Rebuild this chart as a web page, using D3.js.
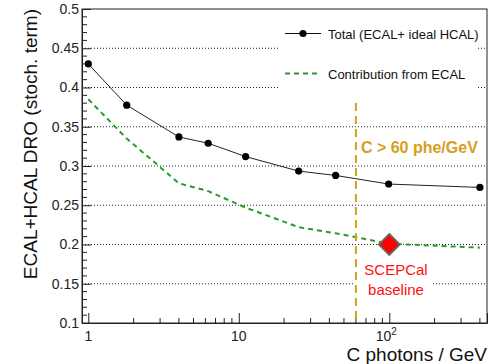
<!DOCTYPE html>
<html lang="en">
<head>
<meta charset="UTF-8">
<title>ECAL+HCAL DRO stochastic term</title>
<script src="https://unpkg.com/d3@7/dist/d3.min.js"></script>
<style>
  body { margin: 0; background: white; }
  text { font-family: "Liberation Sans", Arial, sans-serif; }
</style>
</head>
<body>
<script>
// data
var cPhotons   = [1, 1.8, 4.0, 6.26, 11.1, 25, 44, 99, 400];
var totalTerm  = [0.430, 0.3775, 0.337, 0.329, 0.312, 0.2935, 0.288, 0.277, 0.2727];
var ecalTerm   = [0.385, 0.335, 0.278, 0.268, 0.247, 0.222, 0.2143, 0.201, 0.196];
var baselineC  = [100], baselineTerm = [0.2];
var cutC = 60;
var yMajor = [0.1, 0.15, 0.2, 0.25, 0.3, 0.35, 0.4, 0.45, 0.5];
var xMajor = [1, 10, 100];

var width = 494, height = 364;
// note: "top" is taken by window.top, so plot edges get their own names
var pLeft = 82, pRight = 487, pTop = 9, pBottom = 323;

var svg = d3.select('body').append('svg')
            .attr('width', width).attr('height', height);

var x = d3.scaleLog().domain([0.908, 446]).range([pLeft, pRight]);
var y = d3.scaleLinear().domain([0.1, 0.5]).range([pBottom, pTop]);

// dotted horizontal grid
svg.append('g').selectAll('line')
   .data(yMajor.filter(v => v > 0.1 && v < 0.5))
   .enter().append('line')
   .attr('x1', pLeft).attr('x2', pRight)
   .attr('y1', d => y(d)).attr('y2', d => y(d))
   .attr('stroke', '#222').attr('stroke-width', 1)
   .attr('stroke-dasharray', '1,2');

// white boxes behind legend and label
svg.append('rect').attr('x', 280).attr('y', 15).attr('width', 198).attr('height', 78).attr('fill', 'white');
svg.append('rect').attr('x', 355).attr('y', 258).attr('width', 78).attr('height', 42).attr('fill', 'white');

// frame
svg.append('rect').attr('x', pLeft).attr('y', pTop)
   .attr('width', pRight - pLeft).attr('height', pBottom - pTop)
   .attr('fill', 'none').attr('stroke', '#222').attr('stroke-width', 1);

// y axis, ticks pointing inward
var yMinor = d3.range(10, 51).map(v => v / 100).filter(v => yMajor.indexOf(v) < 0);
svg.append('g').selectAll('line').data(yMinor).enter().append('line')
   .attr('x1', pLeft).attr('x2', pLeft + 5)
   .attr('y1', d => y(d)).attr('y2', d => y(d))
   .attr('stroke', '#222');
var yAxis = svg.append('g').attr('transform', 'translate(' + pLeft + ',0)')
   .call(d3.axisLeft(y).tickValues(yMajor).tickSize(-9).tickPadding(3)
           .tickFormat(d => String(+d.toFixed(2))));
yAxis.select('.domain').attr('stroke', '#222');
yAxis.selectAll('line').attr('stroke', '#222');
yAxis.selectAll('text').attr('font-size', 14).attr('fill', '#222')
     .attr('font-family', '"Liberation Sans", Arial, sans-serif');

// x axis, log ticks
var xMinor = [];
[1, 10, 100].forEach(function (dec) {
  for (var k = 2; k <= 9; k++) if (dec * k <= 446) xMinor.push(dec * k);
});
svg.append('g').selectAll('line').data(xMinor).enter().append('line')
   .attr('x1', d => x(d)).attr('x2', d => x(d))
   .attr('y1', pBottom).attr('y2', pBottom - 5)
   .attr('stroke', '#222');
var xAxis = svg.append('g').attr('transform', 'translate(0,' + pBottom + ')')
   .call(d3.axisBottom(x).tickValues(xMajor).tickSize(-10).tickPadding(7).tickFormat(''));
xAxis.select('.domain').attr('stroke', '#222');
xAxis.selectAll('line').attr('stroke', '#222');
var xl = svg.append('g').attr('font-size', 14).attr('fill', '#222').attr('text-anchor', 'middle');
xl.append('text').attr('x', x(1)).attr('y', pBottom + 18).text('1');
xl.append('text').attr('x', x(10)).attr('y', pBottom + 18).text('10');
var t100 = xl.append('text').attr('x', x(100) - 3).attr('y', pBottom + 18);
t100.append('tspan').text('10');
t100.append('tspan').attr('font-size', 10).attr('dy', -6).text('2');

// axis titles
svg.append('text').attr('x', pRight).attr('y', 361).attr('text-anchor', 'end')
   .attr('font-size', 19).attr('fill', '#111').text('C photons / GeV');
svg.append('text').attr('transform', 'translate(37,' + pTop + ') rotate(-90)')
   .attr('text-anchor', 'end').attr('font-size', 19).attr('fill', '#111')
   .text('ECAL+HCAL DRO (stoch. term)');

// ECAL contribution (green dashed)
var line = d3.line().x(d => x(d[0])).y(d => y(d[1]));
svg.append('path').datum(d3.zip(cPhotons, ecalTerm))
   .attr('d', line).attr('fill', 'none')
   .attr('stroke', '#2a9a2a').attr('stroke-width', 2).attr('stroke-dasharray', '5,4');

// total (black line + markers)
svg.append('path').datum(d3.zip(cPhotons, totalTerm))
   .attr('d', line).attr('fill', 'none')
   .attr('stroke', '#222').attr('stroke-width', 1);
svg.append('g').selectAll('circle').data(d3.zip(cPhotons, totalTerm))
   .enter().append('circle')
   .attr('cx', d => x(d[0])).attr('cy', d => y(d[1])).attr('r', 3.6)
   .attr('fill', 'black');

// C > 60 phe/GeV cut
svg.append('line').attr('x1', x(cutC)).attr('x2', x(cutC))
   .attr('y1', 103).attr('y2', pBottom)
   .attr('stroke', '#d6a01c').attr('stroke-width', 2).attr('stroke-dasharray', '8,5');
svg.append('text').attr('x', x(cutC) + 5).attr('y', 153)
   .attr('font-size', 16).attr('font-weight', 'bold').attr('fill', '#d6a01c')
   .text('C > 60 phe/GeV');

// SCEPCal baseline diamond
var h = 10.5;
svg.append('g').selectAll('path').data(d3.zip(baselineC, baselineTerm)).enter().append('path')
   .attr('d', d => {
     var cx = x(d[0]), cy = y(d[1]);
     return 'M' + cx + ',' + (cy - h) + 'L' + (cx + h) + ',' + cy +
            'L' + cx + ',' + (cy + h) + 'L' + (cx - h) + ',' + cy + 'Z';
   })
   .attr('fill', '#ff0000').attr('stroke', '#666').attr('stroke-width', 1.8);
var lab = svg.append('g').attr('font-size', 15).attr('fill', '#ff1010').attr('text-anchor', 'middle');
lab.append('text').attr('x', 396).attr('y', 275).text('SCEPCal');
lab.append('text').attr('x', 396).attr('y', 295).text('baseline');

// legend
var lg = svg.append('g').attr('font-size', 13).attr('fill', '#111');
lg.append('line').attr('x1', 285).attr('x2', 321).attr('y1', 33.5).attr('y2', 33.5)
  .attr('stroke', '#111').attr('stroke-width', 1);
lg.append('circle').attr('cx', 303).attr('cy', 33.5).attr('r', 3.6).attr('fill', 'black');
lg.append('text').attr('x', 328).attr('y', 38.5).text('Total (ECAL+ ideal HCAL)');
lg.append('line').attr('x1', 285).attr('x2', 318).attr('y1', 73.5).attr('y2', 73.5)
  .attr('stroke', '#2a9a2a').attr('stroke-width', 2).attr('stroke-dasharray', '5,4');
lg.append('text').attr('x', 328).attr('y', 78.5).text('Contribution from ECAL');
</script>
</body>
</html>
